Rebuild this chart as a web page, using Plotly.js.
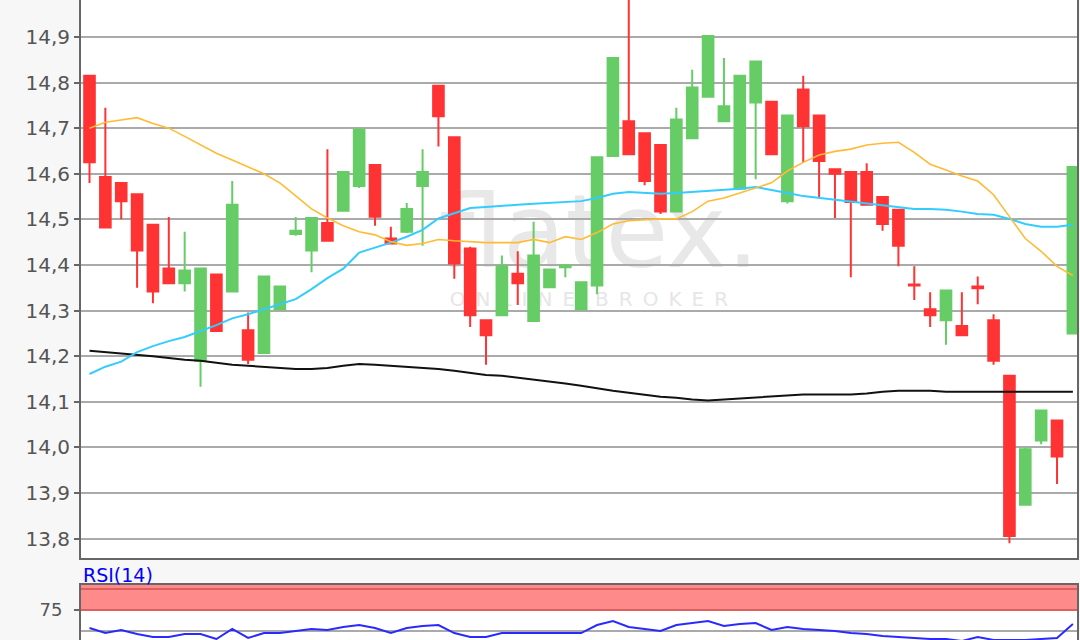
<!DOCTYPE html>
<html>
<head>
<meta charset="utf-8">
<script src="https://cdn.plot.ly/plotly-3.0.1.min.js"></script>
<style>
html,body{margin:0;padding:0;background:#f7f7f7;}
#chart{width:1080px;height:640px;}
</style>
</head>
<body>
<div id="chart"></div>
<script>
// trading-day index of every candle
const days = [0,1,2,3,4,5,6,7,8,9,10,11,12,13,14,15,16,17,18,19,20,21,22,23,24,25,26,27,28,29,30,31,32,33,34,35,36,37,38,39,40,41,42,43,44,45,46,47,48,49,50,51,52,53,54,55,56,57,58,59,60,61,62];

const openP = [14.815,14.593,14.58,14.555,14.488,14.392,14.36,14.19,14.379,14.342,
  14.257,14.207,14.303,14.468,14.432,14.492,14.519,14.573,14.619,14.458,
  14.473,14.573,14.793,14.68,14.436,14.279,14.29,14.381,14.277,14.351,
  14.395,14.303,14.355,14.639,14.715,14.689,14.663,14.517,14.678,14.769,
  14.715,14.567,14.756,14.758,14.54,14.785,14.728,14.61,14.604,14.604,
  14.549,14.521,14.357,14.303,14.279,14.266,14.353,14.279,14.157,13.874,
  14.015,14.059,14.25];
const highP = [14.815,14.745,14.58,14.555,14.488,14.505,14.473,14.392,14.379,14.584,
  14.296,14.375,14.353,14.505,14.503,14.654,14.604,14.697,14.619,14.484,
  14.536,14.654,14.793,14.68,14.44,14.279,14.421,14.43,14.495,14.39,
  14.40,14.362,14.636,14.854,15.02,14.689,14.663,14.745,14.828,14.902,
  14.854,14.815,14.846,14.758,14.728,14.815,14.728,14.61,14.604,14.623,
  14.549,14.521,14.397,14.34,14.344,14.34,14.375,14.292,14.157,14.0,
  14.081,14.059,14.615];
const lowP = [14.58,14.48,14.50,14.35,14.316,14.36,14.342,14.133,14.255,14.342,
  14.183,14.207,14.303,14.464,14.384,14.453,14.519,14.569,14.486,14.445,
  14.47,14.442,14.66,14.37,14.264,14.181,14.29,14.312,14.277,14.351,
  14.373,14.303,14.336,14.639,14.643,14.575,14.512,14.517,14.678,14.769,
  14.715,14.567,14.588,14.643,14.535,14.625,14.549,14.503,14.373,14.532,
  14.475,14.397,14.323,14.264,14.225,14.246,14.314,14.181,13.79,13.874,
  14.007,13.92,14.25];
const closeP = [14.625,14.482,14.54,14.432,14.342,14.36,14.388,14.392,14.255,14.532,
  14.192,14.375,14.353,14.475,14.503,14.453,14.604,14.697,14.506,14.447,
  14.523,14.604,14.726,14.403,14.29,14.246,14.397,14.36,14.421,14.39,
  14.399,14.362,14.636,14.854,14.643,14.584,14.517,14.719,14.789,14.902,
  14.748,14.815,14.846,14.643,14.728,14.704,14.628,14.60,14.538,14.532,
  14.49,14.442,14.355,14.29,14.344,14.246,14.349,14.19,13.806,13.996,
  14.081,13.98,14.615];

// moving averages
const maShort = [14.70,14.713,14.718,14.723,14.71,14.70,14.682,14.663,14.645,14.63,
  14.615,14.60,14.58,14.551,14.523,14.503,14.486,14.473,14.466,14.451,
  14.443,14.447,14.456,14.453,14.451,14.449,14.449,14.449,14.456,14.449,
  14.462,14.456,14.471,14.49,14.497,14.499,14.501,14.501,14.517,14.54,
  14.547,14.558,14.569,14.58,14.606,14.625,14.641,14.649,14.654,14.663,
  14.667,14.669,14.647,14.621,14.608,14.595,14.584,14.554,14.506,14.458,
  14.43,14.397,14.377];
const maMid = [14.161,14.177,14.188,14.209,14.222,14.233,14.242,14.255,14.268,14.283,
  14.292,14.303,14.314,14.325,14.347,14.371,14.392,14.427,14.438,14.449,
  14.462,14.477,14.502,14.514,14.525,14.527,14.53,14.532,14.534,14.536,
  14.538,14.54,14.547,14.556,14.56,14.558,14.556,14.558,14.56,14.562,
  14.565,14.567,14.571,14.565,14.558,14.551,14.547,14.543,14.538,14.534,
  14.53,14.527,14.523,14.523,14.521,14.517,14.512,14.51,14.501,14.49,
  14.484,14.484,14.488];
const maLong = [14.212,14.209,14.207,14.203,14.2,14.196,14.192,14.19,14.185,14.181,
  14.179,14.177,14.174,14.172,14.172,14.174,14.179,14.183,14.181,14.179,
  14.177,14.174,14.172,14.168,14.164,14.159,14.157,14.153,14.148,14.144,
  14.14,14.135,14.129,14.124,14.12,14.116,14.111,14.109,14.105,14.103,
  14.105,14.107,14.109,14.111,14.113,14.116,14.116,14.116,14.116,14.118,
  14.122,14.124,14.124,14.124,14.122,14.122,14.122,14.122,14.122,14.122,
  14.122,14.122,14.122];

const rsi = [53.6,47.6,51.2,46.4,42.9,42.9,46.4,46.4,40.5,52.4,
  41.7,47.6,47.6,50.0,52.4,51.2,54.8,57.1,53.6,47.6,
  53.6,56.0,57.1,47.6,42.9,42.9,47.6,47.6,47.6,47.6,
  47.6,47.6,57.1,61.9,54.8,52.4,50.0,57.1,59.5,61.9,
  56.0,58.3,59.5,51.2,54.8,52.4,51.2,50.0,47.6,46.4,
  44.0,42.9,41.7,40.5,40.5,38.1,42.9,39.3,39.3,39.3,
  40.5,41.7,58.3];

const priceTicks = [13.8,13.9,14.0,14.1,14.2,14.3,14.4,14.5,14.6,14.7,14.8,14.9];
const priceTickText = ['13,8','13,9','14,0','14,1','14,2','14,3','14,4','14,5','14,6','14,7','14,8','14,9'];
const rsiTicks = [75];
const rsiTickText = ['75'];

const tickFont = {family:'DejaVu Sans, sans-serif', size:20, color:'#555555'};

const traces = [
  {type:'candlestick', x:days, open:openP, high:highP, low:lowP, close:closeP,
   xaxis:'x', yaxis:'y', whiskerwidth:0, hoverinfo:'skip', showlegend:false,
   increasing:{line:{color:'#66cc66', width:2}, fillcolor:'#66cc66'},
   decreasing:{line:{color:'#ff3333', width:2}, fillcolor:'#ff3333'}},
  {type:'scatter', mode:'lines', x:days, y:maLong, xaxis:'x', yaxis:'y',
   line:{color:'#111111', width:2}, hoverinfo:'skip', showlegend:false},
  {type:'scatter', mode:'lines', x:days, y:maMid, xaxis:'x', yaxis:'y',
   line:{color:'#33ccff', width:2}, hoverinfo:'skip', showlegend:false},
  {type:'scatter', mode:'lines', x:days, y:maShort, xaxis:'x', yaxis:'y',
   line:{color:'#ffbb33', width:1.6}, hoverinfo:'skip', showlegend:false},
  {type:'scatter', mode:'lines', x:days, y:rsi, xaxis:'x2', yaxis:'y2',
   line:{color:'#2a2aff', width:2}, hoverinfo:'skip', showlegend:false}
];

const layout = {
  width:1080, height:640,
  margin:{l:81, r:3, t:0, b:0},
  paper_bgcolor:'#f7f7f7', plot_bgcolor:'#ffffff',
  separators:',.',
  showlegend:false,
  boxgap:0.33, boxgroupgap:0,
  xaxis:{domain:[0,1], range:[-0.536,62.26], anchor:'y', showgrid:false, zeroline:false,
    showticklabels:false, ticks:'', showline:true, linecolor:'#666666', linewidth:2,
    rangeslider:{visible:false}, fixedrange:true},
  yaxis:{domain:[0.128125,1], range:[13.7575,14.981], anchor:'x',
    tickvals:priceTicks, ticktext:priceTickText, ticks:'outside', ticklen:5, tickwidth:2,
    tickcolor:'#666666', tickfont:tickFont, showgrid:true, gridcolor:'#aaaaaa', gridwidth:2,
    zeroline:false, showline:true, mirror:true, linecolor:'#666666', linewidth:2, fixedrange:true},
  xaxis2:{domain:[0,1], range:[-0.536,62.26], anchor:'y2', showgrid:false, zeroline:false,
    showticklabels:false, ticks:'', showline:true, mirror:true, linecolor:'#666666', linewidth:2,
    rangeslider:{visible:false}, fixedrange:true},
  yaxis2:{domain:[0,0.0859], range:[39.3,104.8], anchor:'x2',
    tickvals:rsiTicks, ticktext:rsiTickText, ticks:'outside', ticklen:5, tickwidth:2,
    tickcolor:'#666666', tickfont:{family:'DejaVu Sans, sans-serif', size:18, color:'#555555'},
    ticklabelstandoff:8,
    showgrid:false, zeroline:false, showline:true, mirror:true, linecolor:'#666666', linewidth:2, fixedrange:true},
  shapes:[
    {type:'rect', xref:'x2 domain', yref:'y2', x0:0, x1:1, y0:75, y1:104.8,
     fillcolor:'#ff8a8a', line:{width:0}, layer:'below'},
    {type:'line', xref:'x2 domain', yref:'y2', x0:0, x1:1, y0:100, y1:100,
     line:{color:'#dd6060', width:2}, layer:'below'},
    {type:'line', xref:'x2 domain', yref:'y2', x0:0, x1:1, y0:75, y1:75,
     line:{color:'#dd6060', width:2}, layer:'below'},
    {type:'line', xref:'x2 domain', yref:'y2', x0:0, x1:1, y0:50, y1:50,
     line:{color:'#aaaaaa', width:2}, layer:'below'},
    {type:'rect', xref:'paper', yref:'paper', x0:0.40, x1:0.64, y0:0.61, y1:0.69,
     fillcolor:'rgba(0,0,0,0)', line:{width:0}, layer:'below',
     label:{text:'flatex.', textposition:'middle center',
       font:{family:'DejaVu Sans, sans-serif', size:102, color:'#e8e8e8'}}},
    {type:'rect', xref:'paper', yref:'paper', x0:0.40, x1:0.62, y0:0.52, y1:0.55,
     fillcolor:'rgba(0,0,0,0)', line:{width:0}, layer:'below',
     label:{text:'O\u2002N\u2002L\u2002I\u2002N\u2002E\u2002\u2002B\u2002R\u2002O\u2002K\u2002E\u2002R', textposition:'middle center',
       font:{family:'DejaVu Sans, sans-serif', size:20, color:'#e6e6e6'}}}
  ],
  annotations:[
    {xref:'paper', yref:'paper', x:0, y:0.1016, xanchor:'left', yanchor:'middle', xshift:0,
     text:'RSI(14)', showarrow:false, font:{family:'DejaVu Sans, sans-serif', size:19, color:'#0000ff'}},
    {xref:'paper', yref:'paper', x:0, y:1, xanchor:'right', yanchor:'middle', xshift:-8, yshift:8.6,
     text:'15,0', showarrow:false, font:tickFont}
  ]
};

Plotly.newPlot('chart', traces, layout, {staticPlot:true, displayModeBar:false});
</script>
</body>
</html>
